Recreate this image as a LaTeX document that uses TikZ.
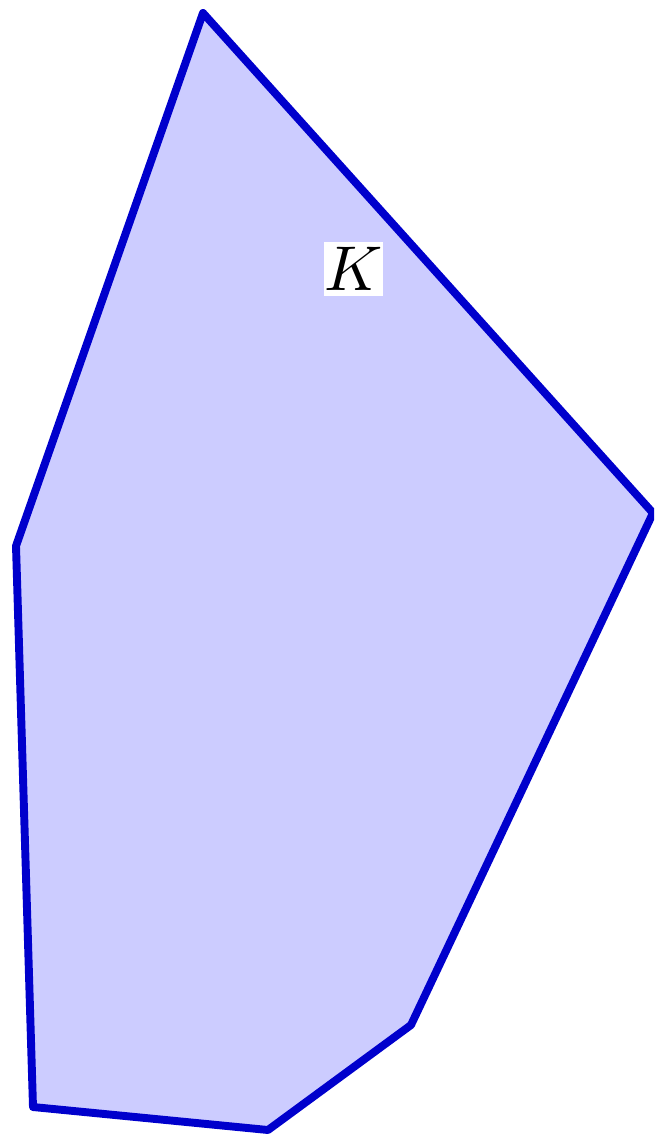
\documentclass[tikz,border=0pt]{standalone}
\begin{document}
\begin{tikzpicture}[x=0.02cm,y=-0.02cm,
  body/.style={draw={rgb,1:red,0;green,0;blue,0.8},fill={rgb,1:red,0.8;green,0.8;blue,1},line width=4.5pt,line join=round},
  lbl/.style={fill=white,inner sep=0pt,minimum width=33.6pt,minimum height=30.7pt}]
\useasboundingbox (0,0) rectangle (654,1134);
\coordinate (A) at (203,13);
\coordinate (B) at (653,513);
\coordinate (C) at (411,1025);
\coordinate (D) at (268,1130);
\coordinate (E) at (33,1107);
\coordinate (F) at (16,546);
\begin{scope}
\clip (0,0) rectangle (654,1134);
\draw[body] (A) -- (B) -- (C) -- (D) -- (E) -- (F) -- cycle;
\end{scope}
\node[lbl] (K) at (353.5,269) {\scalebox{3.6}{$K$}};
\end{tikzpicture}
\end{document}
